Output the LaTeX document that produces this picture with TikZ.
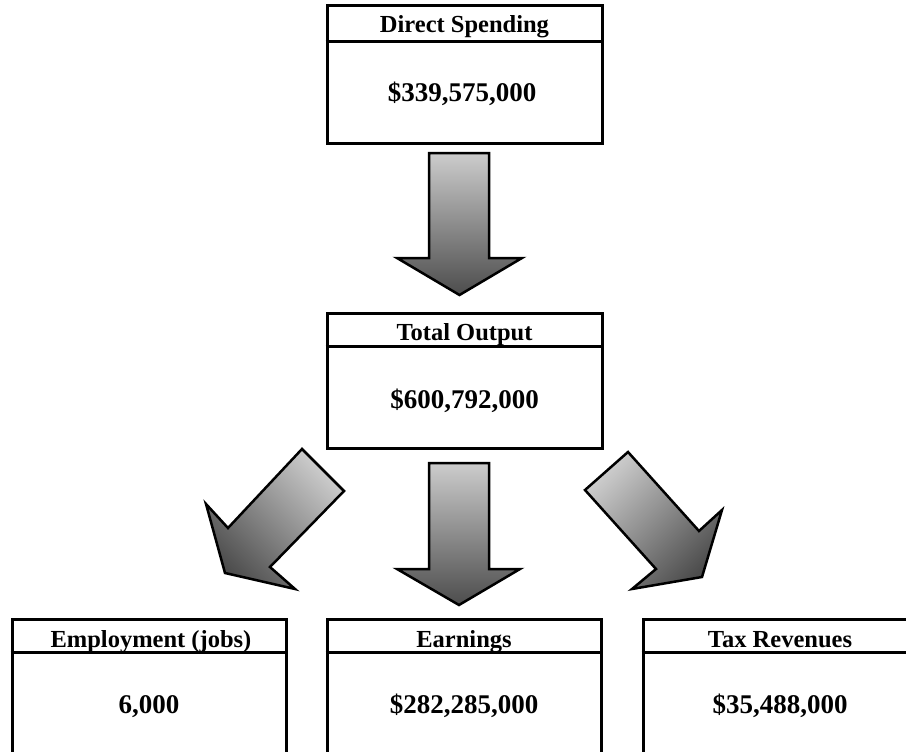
\documentclass[tikz,border=0pt]{standalone}
\usepackage{fontspec}
\setmainfont{Liberation Serif}
\definecolor{atop}{gray}{0.80}
\definecolor{abot}{gray}{0.30}
\tikzset{
  box/.style={draw=black, line width=3pt, rectangle, inner sep=0pt, fill=white},
  sep/.style={line width=3pt},
  hdr/.style={font=\fontsize{24.5}{28}\selectfont\bfseries, anchor=base, inner sep=0pt},
  val/.style={font=\fontsize{27}{30}\selectfont\bfseries, anchor=base, inner sep=0pt},
  barrow/.style={draw=black, line width=2.5pt, line join=miter},
}
\begin{document}
\begin{tikzpicture}[x=1pt,y=-1pt]
\useasboundingbox (0,0) rectangle (906,752);
\clip (0,0) rectangle (906,752);

% Direct Spending
\node[box, minimum width=275pt, minimum height=137pt] (ds) at (464.5,74.5) {};
\draw[sep] (ds.west |- 0,42) -- (ds.east |- 0,42);
\node[hdr] (dsh) at (464.5,33) {Direct Spending};
\node[val] (dsv) at (462,102) {\$339,575,000};

% Total Output
\node[box, minimum width=275pt, minimum height=135pt] (to) at (464.5,380.5) {};
\draw[sep] (to.west |- 0,346) -- (to.east |- 0,346);
\node[hdr] (toh) at (464.5,340) {Total Output};
\node[val] (tov) at (464.5,408) {\$600,792,000};

% Bottom boxes
\node[box, minimum width=274pt, minimum height=143pt] (em) at (149,690.5) {};
\draw[sep] (em.west |- 0,652) -- (em.east |- 0,652);
\node[hdr] (emh) at (151,647) {Employment (jobs)};
\node[val] (emv) at (149,713) {6,000};

\node[box, minimum width=274pt, minimum height=143pt] (ea) at (464,690.5) {};
\draw[sep] (ea.west |- 0,652) -- (ea.east |- 0,652);
\node[hdr] (eah) at (464,647) {Earnings};
\node[val] (eav) at (464,713) {\$282,285,000};

\node[box, minimum width=274pt, minimum height=143pt] (tx) at (780,690.5) {};
\draw[sep] (tx.west |- 0,652) -- (tx.east |- 0,652);
\node[hdr] (txh) at (780,647) {Tax Revenues};
\node[val] (txv) at (780,713) {\$35,488,000};

% Block arrows
\path[barrow, top color=atop, bottom color=abot]
  (429,153) -- (489,153) -- (489,258) -- (522,258) -- (459.5,295) -- (397,258) -- (429,258) -- cycle;
\path[barrow, top color=atop, bottom color=abot]
  (429,463) -- (489,463) -- (489,569) -- (520,569) -- (459,605) -- (397,569) -- (429,569) -- cycle;
\path[barrow, top color=atop, bottom color=abot, shading angle=-45]
  (302,449) -- (344,491) -- (270,567) -- (295,589) -- (225,573) -- (206,504) -- (228,528) -- cycle;
\path[barrow, top color=atop, bottom color=abot, shading angle=45]
  (628,452) -- (699,531) -- (722,510) -- (702,577) -- (632,589) -- (656,569) -- (585,490) -- cycle;
\end{tikzpicture}
\end{document}
